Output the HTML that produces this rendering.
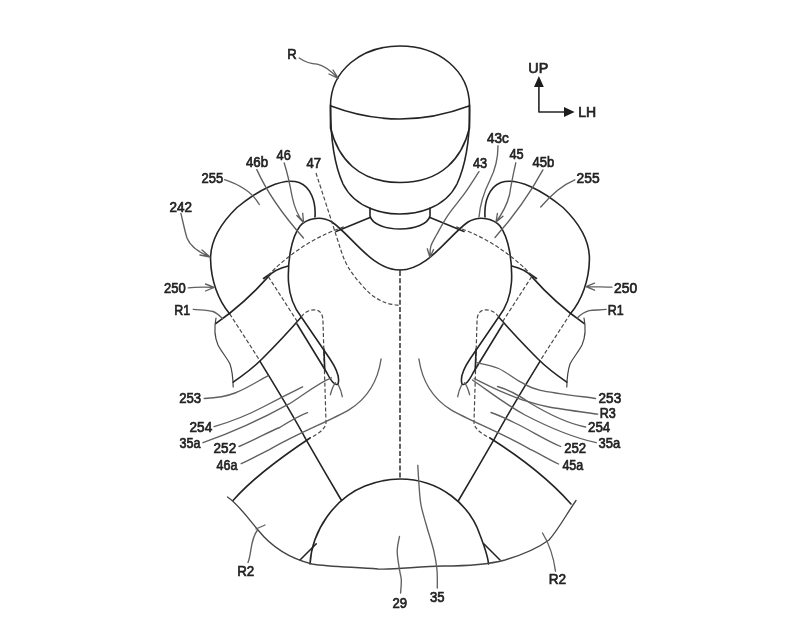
<!DOCTYPE html>
<html><head><meta charset="utf-8">
<style>
html,body{margin:0;padding:0;background:#fff;}
body{width:805px;height:632px;overflow:hidden;}
svg{display:block;will-change:transform;}
text{font-family:"Liberation Sans",sans-serif;font-size:14.8px;fill:#222;stroke:#222;stroke-width:0.7px;}
.m{fill:none;stroke:#242424;stroke-width:1.6;stroke-linecap:round;stroke-linejoin:round;}
.t{fill:none;stroke:#444;stroke-width:1.2;stroke-linecap:round;stroke-linejoin:round;}
.l{fill:none;stroke:#606060;stroke-width:1.35;stroke-linecap:round;stroke-linejoin:round;}
.d{fill:none;stroke:#4a4a4a;stroke-width:1.2;stroke-dasharray:4 2.2;}
.c{fill:none;stroke:#3a3a3a;stroke-width:1.6;stroke-dasharray:5 2.2;}
</style></head>
<body>
<svg width="805" height="632" viewBox="0 0 805 632">
<g>
  <!-- torso outline left + neckline -->
  <path class="m" d="M400,270 C372,270 352,236 332,222 C320,215 306,219 300,226 C291,238 287.5,262 288.5,282 C289.5,296 295,309 301.3,317 L330,359 C336,368 340,378 338,384 C335,386 331,381 327,373 L297,324"/>
  <!-- shoulder line from neck -->
  <path class="m" d="M370,217.5 L336,231.5"/>
  <!-- airbag outline -->
  <path class="m" d="M315,217 C316,202 311,187 299,182.5 C282,177 257,191 237,207.5 C221,223 210,240 210.6,260 C211,280 218,300 229.6,313.7"/>
  <path class="d" d="M229.6,313.7 C240,330 250,345 260,361"/>
  <path class="m" d="M260,361.4 C272,381 290,410 305.5,438.6 C316,457 330,481 341.5,500.5"/>
  <!-- sleeve R1 -->
  <path class="m" d="M215.7,323.7 Q245,303 268.3,276.6 C272,272 280,268 288.2,266"/>
  <path class="m" d="M263.5,278.5 L270,274"/>
  <path class="t" d="M216,318 C214,328 215,338 218,345 C221,351 227,358 230,364 C232,370 233,378 233.2,387"/>
  <path class="m" d="M233.2,382.1 C245,374 255,366 262,359 C275,346 290,330 301.3,317"/>
  <path class="d" d="M268.3,276.6 L297.6,322"/>
  <path class="d" d="M268,275.4 C285,258 310,238 345,226.5"/>
  <!-- dashed rect 46a -->
  <path class="d" d="M301.3,317 C305,311 311,309.5 316,310 C321,311 323,315 323,322 L326,422 C326,428 320,433 310,438"/>
  <!-- lower arm line -->
  <!-- small vertical in arm -->
  <path class="m" d="M323.9,349 L324.8,370"/>
  <!-- hand -->
  <path class="l" d="M335.4,382.8 C333,386 331.5,390 330.4,394.7"/>
  <path class="l" d="M338.3,384.8 C340,388 341.5,392 342.3,396.7"/>
  <!-- small triangle at seat -->
  <path class="m" d="M300,560 L316.25,543.75"/>
</g>
<g transform="matrix(-1 0 0 1 800 0)">
  <!-- torso outline left + neckline -->
  <path class="m" d="M400,270 C372,270 352,236 332,222 C320,215 306,219 300,226 C291,238 287.5,262 288.5,282 C289.5,296 295,309 301.3,317 L330,359 C336,368 340,378 338,384 C335,386 331,381 327,373 L297,324"/>
  <!-- shoulder line from neck -->
  <path class="m" d="M370,217.5 L336,231.5"/>
  <!-- airbag outline -->
  <path class="m" d="M315,217 C316,202 311,187 299,182.5 C282,177 257,191 237,207.5 C221,223 210,240 210.6,260 C211,280 218,300 229.6,313.7"/>
  <path class="d" d="M229.6,313.7 C240,330 250,345 260,361"/>
  <path class="m" d="M260,361.4 C272,381 290,410 305.5,438.6 C316,457 330,481 341.5,500.5"/>
  <!-- sleeve R1 -->
  <path class="m" d="M215.7,323.7 Q245,303 268.3,276.6 C272,272 280,268 288.2,266"/>
  <path class="m" d="M263.5,278.5 L270,274"/>
  <path class="t" d="M216,318 C214,328 215,338 218,345 C221,351 227,358 230,364 C232,370 233,378 233.2,387"/>
  <path class="m" d="M233.2,382.1 C245,374 255,366 262,359 C275,346 290,330 301.3,317"/>
  <path class="d" d="M268.3,276.6 L297.6,322"/>
  <path class="d" d="M268,275.4 C285,258 310,238 345,226.5"/>
  <!-- dashed rect 46a -->
  <path class="d" d="M301.3,317 C305,311 311,309.5 316,310 C321,311 323,315 323,322 L326,422 C326,428 320,433 310,438"/>
  <!-- lower arm line -->
  <!-- small vertical in arm -->
  <path class="m" d="M323.9,349 L324.8,370"/>
  <!-- hand -->
  <path class="l" d="M335.4,382.8 C333,386 331.5,390 330.4,394.7"/>
  <path class="l" d="M338.3,384.8 C340,388 341.5,392 342.3,396.7"/>
  <!-- small triangle at seat -->
  <path class="m" d="M300,560 L316.25,543.75"/>
</g>



<!-- helmet -->
<path class="m" d="M330.5,106 C330.5,70 362,46 400,46 C438,46 469.5,70 469.5,106 C470,132 467,162 457,184 C444,210 414,214 400,214 C386,214 356,210 343,184 C333,162 330.5,132 330.5,106 Z"/>
<path class="m" d="M331,106 Q400,132 469,106"/>
<path class="m" d="M330.5,105 L330.5,128 C338,158 358,182.5 400,182.5 C442,182.5 462,158 469.5,128 L469.5,105"/>
<!-- neck -->
<path class="m" d="M370,208 L370,216 C372,224 385,229 400,229 C415,229 428,224 430,216 L430,208"/>

<!-- center dashed line -->
<path class="c" d="M400,271 L400,479"/>
<!-- dashed 47 -->
<path class="d" d="M316.0,173.0 C318.0,179.2 324.5,199.2 328.0,210.0 C331.5,220.8 334.2,229.5 337.0,238.0 C339.8,246.5 342.0,254.5 345.0,261.0 C348.0,267.5 350.8,271.6 355.0,277.0 C359.2,282.4 365.0,289.2 370.0,293.5 C375.0,297.8 380.0,300.5 385.0,302.5 C390.0,304.5 397.5,305.0 400.0,305.5"/>

<path class="m" d="M233,500.5 C250,481 277,460 310,438"/>
<path class="m" d="M490,438 C520,457 548,478 571,504"/>
<!-- seat dome -->
<path class="m" d="M310,564 C312,530 335,498 365,486 C380,480 392,479 400,479 C440,479 470,505 480,535 C485,548 488,556 488.5,564"/>
<!-- bottom R2 outline -->
<path class="t" style="stroke-width:1.35" d="M227.5,497 C238,504 248,518 258,530 C270,545 288,558 312,564 C330,567 355,567 378,569 C395,570 420,566 443,566 C465,566 490,564 505,560 C522,555 538,548 549,540 C558,530 566,515 576,500.5"/>

<!-- muscle curves -->
<path class="l" d="M381.1,359 C378,380 368,398 349.3,409.6 C330,421 300,432 269.8,449.4 C260,454 250,460 241.2,463.7"/>
<path class="l" d="M418.9,359 C422,380 432,398 450.7,409.6 C470,421 500,432 530.2,449.4 C540,454 550,460 558.6,464"/>

<!-- axes -->
<path class="m" d="M538.9,85 L538.9,112 L566,112"/>
<path d="M538.9,76 L534,87 L543.8,87 Z M574.6,112 L564,107 L564,117 Z" fill="#1c1c1c"/>

<!-- leaders left -->
<path class="l" d="M299.2,58 C305,62 310,64 317.2,64.2 C322,65 328,68 338.3,78.4 M338.3,78.4 L329,74 M338.3,78.4 L333,70"/>
<path class="l" d="M224.5,179.7 C232,182 240,186 246,190 C252,194 256,199 259.3,204.5"/>
<path class="l" d="M180.9,213.4 C183,222 185,232 187,238 C190,246 198,252 210,257 M210,257 L200,255 M210,257 L202,250"/>
<path class="l" d="M188.3,287.9 C195,287 205,287 214.2,287.4 M214.2,287.4 L205.5,284 M214.2,287.4 L205.5,291"/>
<path class="l" d="M193.3,309.3 C200,310 208,310 213,311.5 C217,313 220,316 222.6,318.7"/>
<path class="l" d="M256.8,169.6 C266,190 283,215 303.5,238"/>
<path class="l" d="M284.2,163 C288,175 290,185 292,196 C294,206 298,216 303.5,222.5 M303.5,222.5 L296.8,215.5 M303.5,222.5 L302.7,213.3"/>
<path class="l" d="M204.2,398.5 C215,398 225,397 235,393 C248,388 258,381 267.8,375.8"/>
<path class="l" d="M214.1,426.6 C230,422 250,414 265,406 C280,398 292,392 302.6,386.8"/>
<path class="l" d="M203,442.7 C225,435 260,420 289.6,403.7 C305,394 318,383 331.4,377.8"/>
<path class="l" d="M239,446.5 C255,440 268,432 279.7,427.5 C290,421 298,416 307.5,412.6"/>
<path class="l" d="M248,562.5 C252,552 250,540 257.5,530 M256,529 L265,525"/>
<path class="l" d="M399.5,536.4 C399.1,538.9 397.2,545.8 397.2,551.3 C397.2,556.8 398.8,564.9 399.5,569.7 C400.2,574.5 401.1,576.1 401.3,580.0 C401.5,583.9 400.7,590.8 400.6,593.0"/>
<path class="l" d="M417.8,465.3 C418.0,468.6 418.5,478.4 419.0,485.0 C419.5,491.6 419.8,498.5 421.0,505.0 C422.2,511.5 423.9,516.3 426.0,524.0 C428.1,531.7 432.1,543.6 433.9,551.3 C435.7,559.0 436.4,563.9 437.0,570.0 C437.6,576.1 437.2,585.0 437.3,588.0"/>
<!-- leaders right -->
<path class="l" d="M498,145.7 C498,160 494,172 490,180 C485,190 480,205 479,217"/>
<path class="l" d="M479.0,171.6 C476.6,175.2 469.9,186.0 464.8,193.2 C459.7,200.4 452.9,207.9 448.2,214.8 C443.5,221.7 439.5,229.5 436.6,234.8 C433.7,240.1 431.9,242.6 430.8,246.4 C429.7,250.2 430.1,255.7 430.0,257.5 M430,257.5 L427.3,248.8 M430,257.5 L433.5,249.5"/>
<path class="l" d="M515.8,162.8 C513,175 511,185 509.6,194.5 C507,205 502,214 496,222 M496,222 L497.4,213.5 M496,222 L503,216.2"/>
<path class="l" d="M542.9,169.9 C532,190 515,215 495,237.5"/>
<path class="l" d="M574.8,179.8 C560,186 550,196 540.7,207"/>
<path class="l" d="M611.9,287.2 C605,287 595,286.6 586,286.6 M586,286.6 L594.5,283.2 M586,286.6 L594.5,290.2"/>
<path class="l" d="M606.2,309.4 C600,310 594,310 589.1,310.6 C584,312 580,315 577.1,318.2"/>
<path class="l" d="M595.6,398.5 C586.4,397.1 553.0,393.1 540.5,390.3 C528.0,387.5 527.4,385.5 520.4,381.9 C513.4,378.3 505.9,371.7 498.6,368.5 C491.3,365.3 480.4,363.6 476.7,362.6"/>
<path class="l" d="M597.7,414.2 C589.6,413.0 561.2,409.3 548.9,407.0 C536.6,404.7 532.1,403.1 523.7,400.3 C515.3,397.5 506.9,393.9 498.6,390.3 C490.4,386.7 478.3,380.5 474.2,378.5"/>
<path class="l" d="M585.6,427 C570,424 550,415 530,403 C520,396 510,390 497.5,386.5"/>
<path class="l" d="M596.3,442.7 C575,438 550,428 525,415 C505,404 490,392 472.5,380"/>
<path class="l" d="M560.7,446.5 C545,440 530,430 515,423 C505,418 498,415 491,412.5"/>
<path class="l" d="M542.5,533 C550,545 554,560 555.5,571.2"/>


<text x="287.32" y="58.96" textLength="9.42" lengthAdjust="spacingAndGlyphs">R</text>
<text x="201.50" y="182.54" textLength="21.58" lengthAdjust="spacingAndGlyphs">255</text>
<text x="169.62" y="212.42" textLength="22.50" lengthAdjust="spacingAndGlyphs">242</text>
<text x="245.96" y="166.96" textLength="22.08" lengthAdjust="spacingAndGlyphs">46b</text>
<text x="276.58" y="159.92" textLength="14.20" lengthAdjust="spacingAndGlyphs">46</text>
<text x="306.58" y="168.00" textLength="14.58" lengthAdjust="spacingAndGlyphs">47</text>
<text x="164.00" y="292.58" textLength="21.66" lengthAdjust="spacingAndGlyphs">250</text>
<text x="174.28" y="314.54" textLength="15.88" lengthAdjust="spacingAndGlyphs">R1</text>
<text x="179.25" y="403.42" textLength="21.95" lengthAdjust="spacingAndGlyphs">253</text>
<text x="189.58" y="432.00" textLength="22.62" lengthAdjust="spacingAndGlyphs">254</text>
<text x="179.54" y="447.92" textLength="20.86" lengthAdjust="spacingAndGlyphs">35a</text>
<text x="213.62" y="453.00" textLength="22.54" lengthAdjust="spacingAndGlyphs">252</text>
<text x="216.54" y="470.42" textLength="20.86" lengthAdjust="spacingAndGlyphs">46a</text>
<text x="237.20" y="575.96" textLength="17.04" lengthAdjust="spacingAndGlyphs">R2</text>
<text x="487.04" y="142.54" textLength="21.74" lengthAdjust="spacingAndGlyphs">43c</text>
<text x="473.00" y="168.42" textLength="14.16" lengthAdjust="spacingAndGlyphs">43</text>
<text x="509.46" y="159.04" textLength="14.16" lengthAdjust="spacingAndGlyphs">45</text>
<text x="532.46" y="167.42" textLength="21.70" lengthAdjust="spacingAndGlyphs">45b</text>
<text x="576.58" y="183.00" textLength="23.04" lengthAdjust="spacingAndGlyphs">255</text>
<text x="614.08" y="292.58" textLength="23.04" lengthAdjust="spacingAndGlyphs">250</text>
<text x="607.74" y="315.00" textLength="15.92" lengthAdjust="spacingAndGlyphs">R1</text>
<text x="598.62" y="403.42" textLength="22.54" lengthAdjust="spacingAndGlyphs">253</text>
<text x="599.66" y="418.00" textLength="16.12" lengthAdjust="spacingAndGlyphs">R3</text>
<text x="588.00" y="432.00" textLength="22.16" lengthAdjust="spacingAndGlyphs">254</text>
<text x="598.62" y="447.92" textLength="21.62" lengthAdjust="spacingAndGlyphs">35a</text>
<text x="564.25" y="453.00" textLength="21.95" lengthAdjust="spacingAndGlyphs">252</text>
<text x="562.42" y="470.42" textLength="20.82" lengthAdjust="spacingAndGlyphs">45a</text>
<text x="392.58" y="607.96" textLength="14.58" lengthAdjust="spacingAndGlyphs">29</text>
<text x="430.04" y="602.08" textLength="14.58" lengthAdjust="spacingAndGlyphs">35</text>
<text x="548.66" y="583.92" textLength="17.42" lengthAdjust="spacingAndGlyphs">R2</text>
<text x="528.32" y="72.96" textLength="19.88" lengthAdjust="spacingAndGlyphs">UP</text>
<text x="578.20" y="117.00" textLength="17.88" lengthAdjust="spacingAndGlyphs">LH</text>
</svg>
</body></html>
